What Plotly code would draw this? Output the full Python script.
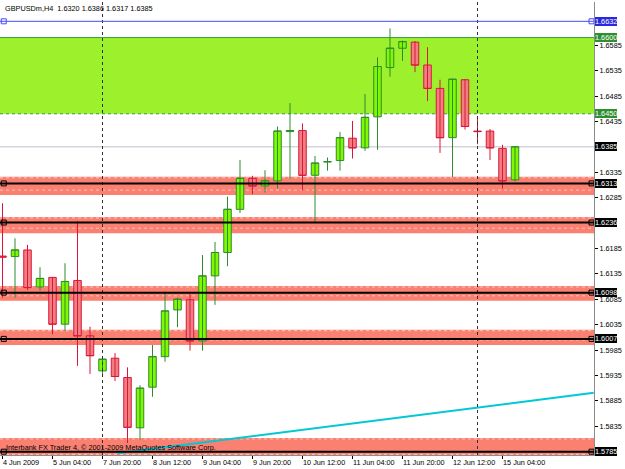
import plotly.graph_objects as go

# ---------------- data ----------------
bar_index = list(range(42))
opens = [1.6170, 1.6169, 1.6182, 1.6109, 1.6128, 1.6036, 1.6122, 1.6013, 1.5944, 1.5969,
         1.5931, 1.5832, 1.5912, 1.5972, 1.6064, 1.6084, 1.6003, 1.6131, 1.6177, 1.6262,
         1.6323, 1.6308, 1.6318, 1.6415, 1.6417, 1.6329, 1.6355, 1.6358, 1.6402, 1.6383,
         1.6444, 1.6541, 1.6579, 1.6591, 1.6546, 1.6500, 1.6403, 1.6517, 1.6416, 1.6416,
         1.6382, 1.6320]
highs = [1.6274, 1.6205, 1.6192, 1.6148, 1.6129, 1.6156, 1.6239, 1.6031, 1.5968, 1.5979,
         1.5951, 1.5916, 1.5995, 1.6100, 1.6088, 1.6095, 1.6172, 1.6198, 1.6287, 1.6359,
         1.6328, 1.6339, 1.6425, 1.6471, 1.6431, 1.6367, 1.6364, 1.6414, 1.6436, 1.6489,
         1.6561, 1.6618, 1.6594, 1.6593, 1.6581, 1.6517, 1.6519, 1.6518, 1.6440, 1.6420,
         1.6389, 1.6386]
lows = [1.6088, 1.6088, 1.6103, 1.6102, 1.6016, 1.6023, 1.5954, 1.5938, 1.5933, 1.5924,
        1.5802, 1.5808, 1.5893, 1.5962, 1.6030, 1.5984, 1.5984, 1.6074, 1.6150, 1.6255,
        1.6292, 1.6295, 1.6303, 1.6322, 1.6299, 1.6237, 1.6338, 1.6338, 1.6362, 1.6377,
        1.6379, 1.6523, 1.6554, 1.6532, 1.6475, 1.6373, 1.6325, 1.6419, 1.6390, 1.6359,
        1.6303, 1.6317]
closes = [1.6168, 1.6182, 1.6108, 1.6126, 1.6036, 1.6120, 1.6013, 1.5974, 1.5967, 1.5933,
          1.5833, 1.5910, 1.5972, 1.6062, 1.6085, 1.6003, 1.6131, 1.6177, 1.6262, 1.6323,
          1.6308, 1.6318, 1.6416, 1.6417, 1.6329, 1.6353, 1.6356, 1.6403, 1.6383, 1.6443,
          1.6543, 1.6579, 1.6592, 1.6546, 1.6500, 1.6403, 1.6518, 1.6425, 1.6415, 1.6383,
          1.6318, 1.6385]

x_tick_bars = [0, 4, 8, 12, 16, 20, 24, 28, 32, 36, 40]
x_tick_labels = ["4 Jun 2009", "5 Jun 04:00", "7 Jun 20:00", "8 Jun 12:00", "9 Jun 04:00",
                 "9 Jun 20:00", "10 Jun 12:00", "11 Jun 04:00", "11 Jun 20:00",
                 "12 Jun 12:00", "15 Jun 04:00"]
y_ticks = [round(1.5785 + 0.005 * k, 4) for k in range(17)]

black_levels = [1.6313, 1.6236, 1.6098, 1.6007, 1.5785]
zone_top = [1.6326, 1.6247, 1.6111, 1.6025, 1.5812]
zone_bottom = [1.6290, 1.6215, 1.6082, 1.5995, 1.5770]
green_zone = [1.6450, 1.6600]
blue_level = 1.6632
bid_level = 1.6385
separator_bars = [8, 38]
trend_x = [9.2, 47.3]
trend_y = [1.5782, 1.5901]

title_text = "GBPUSDm,H4  1.6320 1.6386 1.6317 1.6385"
watermark = "Interbank FX Trader 4, © 2001-2009 MetaQuotes Software Corp."

# ---------------- style ----------------
FONT = "Liberation Sans, Arial, sans-serif"
FS = 7.3
BULL_FILL, BULL_LINE = "#80f800", "#2e8b2e"
BEAR_FILL, BEAR_LINE = "#f08080", "#dc143c"
SALMON = "#fa8072"
GREEN_ZONE = "#9cf02c"
XR = [-0.2, 47.32]
YR = [1.57785, 1.66700]
HALF = 0.3

fig = go.Figure()

# wicks + doji ticks
for bull in (True, False):
    xs, ys = [], []
    for i, o, h, l, c in zip(bar_index, opens, highs, lows, closes):
        if (c >= o) != bull:
            continue
        xs += [i, i, None, i - HALF, i + HALF, None]
        ys += [l, h, None, c, c, None]
    fig.add_trace(go.Scatter(x=xs, y=ys, mode="lines",
                             line=dict(color=BULL_LINE if bull else BEAR_LINE, width=1),
                             hoverinfo="skip"))

# bodies
base = [min(o, c) for o, c in zip(opens, closes)]
height = [abs(c - o) for o, c in zip(opens, closes)]
fills = [BULL_FILL if c >= o else BEAR_FILL for o, c in zip(opens, closes)]
edges = [BULL_LINE if c >= o else BEAR_LINE for o, c in zip(opens, closes)]
fig.add_trace(go.Bar(x=bar_index, y=height, base=base, width=2 * HALF,
                     marker=dict(color=fills, line=dict(color=edges, width=1)),
                     hoverinfo="skip"))

# trend line
fig.add_trace(go.Scatter(x=trend_x, y=trend_y, mode="lines",
                         line=dict(color="#00c8d4", width=2), hoverinfo="skip"))

shapes = []
# green zone
shapes.append(dict(type="rect", xref="paper", yref="y", x0=0, x1=1,
                   y0=green_zone[0], y1=green_zone[1], fillcolor=GREEN_ZONE,
                   line=dict(width=0), layer="below"))
shapes.append(dict(type="line", xref="paper", yref="y", x0=0, x1=1,
                   y0=green_zone[1], y1=green_zone[1],
                   line=dict(color="#3a9a3a", width=1), layer="below"))
shapes.append(dict(type="line", xref="paper", yref="y", x0=0, x1=1,
                   y0=green_zone[0], y1=green_zone[0],
                   line=dict(color="#3a9a3a", width=1, dash="dot"), layer="below"))
# red zones
px = (YR[1] - YR[0]) / 453.0
for t, b in zip(zone_top, zone_bottom):
    shapes.append(dict(type="rect", xref="paper", yref="y", x0=0, x1=1, y0=b, y1=t,
                       fillcolor=SALMON, line=dict(width=0), layer="below"))
    for yy in (t - px, b + 5 * px):
        shapes.append(dict(type="line", xref="paper", yref="y", x0=0, x1=1, y0=yy, y1=yy,
                           line=dict(color="#ffc4bc", width=1, dash="dot"), layer="below"))
# bid line
shapes.append(dict(type="line", xref="paper", yref="y", x0=0, x1=1, y0=bid_level, y1=bid_level,
                   line=dict(color="#c0c0cc", width=1), layer="below"))
# separators
for s in separator_bars:
    shapes.append(dict(type="line", xref="x", yref="paper", x0=s, x1=s, y0=0, y1=1,
                       line=dict(color="#303030", width=1, dash="3px,3px"), layer="above"))
# black levels
for lv in black_levels:
    shapes.append(dict(type="line", xref="paper", yref="y", x0=0, x1=1, y0=lv, y1=lv,
                       line=dict(color="black", width=2), layer="above"))
# blue level
shapes.append(dict(type="line", xref="paper", yref="y", x0=0, x1=1, y0=blue_level, y1=blue_level,
                   line=dict(color="#4848ff", width=1), layer="above"))

# end handles
hx_l, hx_r = XR[0] + 0.3, XR[1] - 0.2
fig.add_trace(go.Scatter(x=[hx_l] * len(black_levels) + [hx_r] * len(black_levels),
                         y=black_levels * 2, mode="markers",
                         marker=dict(symbol="square-open", size=5, color="black",
                                     line=dict(width=1)), hoverinfo="skip"))
fig.add_trace(go.Scatter(x=[hx_l, hx_r], y=[blue_level] * 2, mode="markers",
                         marker=dict(symbol="square-open", size=5, color="#4848ff",
                                     line=dict(width=1)), hoverinfo="skip"))

annotations = []
# right labels
label_specs = [(blue_level, "#2828e0")] + [(green_zone[1], "#2d8f2d"), (green_zone[0], "#2d8f2d"),
                                          (bid_level, "black")] + [(lv, "black") for lv in black_levels]
label_vals = [v for v, _ in label_specs]
for val, col in label_specs:
    annotations.append(dict(x=1, xref="paper", y=val, yref="y", xanchor="left", yanchor="middle",
                            xshift=1, text=f"{val:.4f}", showarrow=False, bgcolor=col,
                            borderpad=0, borderwidth=0,
                            font=dict(family=FONT, size=FS, color="white")))
# y tick texts: the ones hidden under a price label are left empty
y_tick_text = ["" if any(abs(t - v) < 0.0003 for v in label_vals) else f"{t:.4f}" for t in y_ticks]

# x labels
for b, t in zip(x_tick_bars, x_tick_labels):
    annotations.append(dict(x=b, xref="x", y=0, yref="paper", xanchor="left", yanchor="top",
                            xshift=-2, yshift=-1, text=t, showarrow=False,
                            font=dict(family=FONT, size=FS, color="black")))
# title and watermark
annotations.append(dict(x=0, xref="paper", y=1, yref="paper", xanchor="left", yanchor="top",
                        xshift=3, text=title_text, showarrow=False,
                        font=dict(family=FONT, size=FS, color="black")))
annotations.append(dict(x=0, xref="paper", y=0, yref="paper", xanchor="left", yanchor="bottom",
                        xshift=4, yshift=1, text=watermark, showarrow=False,
                        font=dict(family=FONT, size=FS, color="black")))

fig.update_layout(
    width=625, height=469,
    margin=dict(l=0, r=31, t=2, b=14),
    paper_bgcolor="white", plot_bgcolor="white",
    showlegend=False, barmode="overlay",
    shapes=shapes, annotations=annotations,
    xaxis=dict(range=XR, showgrid=False, zeroline=False, showline=True,
               linecolor="#8c8c8c", linewidth=1, ticks="outside", ticklen=3,
               tickcolor="black", tickvals=x_tick_bars, showticklabels=False,
               fixedrange=True),
    yaxis=dict(range=YR, side="right", showgrid=False, zeroline=False, showline=True,
               linecolor="#8c8c8c", linewidth=1, ticks="outside", ticklen=3,
               tickcolor="black", tickvals=y_ticks, ticktext=y_tick_text,
               tickfont=dict(family=FONT, size=FS, color="black"), fixedrange=True),
)

fig.write_html("out.html")
